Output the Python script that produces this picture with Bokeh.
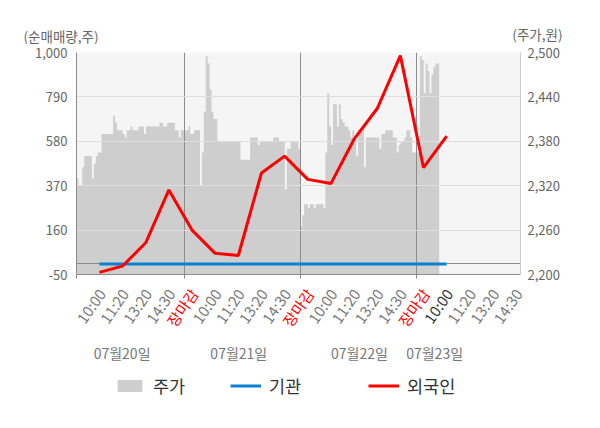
from bokeh.plotting import figure
from bokeh.layouts import column
from bokeh.models import (Range1d, LinearAxis, FixedTicker, NumeralTickFormatter, Grid,
                          ColumnDataSource, Legend, LegendItem, CustomJSTickFormatter)
from bokeh.embed import file_html
from bokeh.resources import INLINE
from bokeh.core.properties import value

FONT = "Noto Sans CJK KR"

# ---------------- data ----------------
tick_labels = ["10:00", "11:20", "13:20", "14:30", "장마감",
               "10:00", "11:20", "13:20", "14:30", "장마감",
               "10:00", "11:20", "13:20", "14:30", "장마감",
               "10:00", "11:20", "13:20", "14:30"]
date_labels = ["07월20일", "07월21일", "07월22일", "07월23일"]
date_pos = [0.98, 6.02, 11.23, 14.48]
day_bounds = [3.69, 8.70, 13.71]

# 순매매량 (주) at each labelled time point
institution = [0, 0, 0, 0, 0, 0, 0, 0, 0, 0, 0, 0, 0, 0, 0, 0]
foreign = [-40, -10, 100, 350, 160, 50, 40, 430, 510, 400, 380, 590, 735, 985, 455, 605]

# 주가 (원), intraday samples
price_day1 = [2330, 2320, 2320, 2345, 2360, 2360, 2360, 2360, 2330, 2350,
              2360, 2365, 2365, 2390, 2390, 2390, 2390, 2390, 2390, 2415,
              2405, 2395, 2395, 2395, 2390, 2385, 2395, 2395, 2400, 2395,
              2395, 2395, 2400, 2400, 2400, 2390, 2400, 2400, 2400, 2400,
              2400, 2400, 2400, 2405, 2405, 2400, 2400, 2405, 2405, 2405,
              2405, 2395, 2395, 2385, 2395, 2395]
price_day2 = [2395, 2395, 2400, 2390, 2390, 2395, 2395, 2395, 2320, 2365,
              2420, 2495, 2485, 2450, 2420, 2410, 2410, 2380, 2380, 2380,
              2380, 2380, 2380, 2380, 2380, 2380, 2380, 2380, 2380, 2355,
              2355, 2355, 2355, 2355, 2385, 2385, 2385, 2385, 2375, 2380,
              2380, 2380, 2380, 2380, 2380, 2380, 2385, 2385, 2385, 2380,
              2380, 2380, 2315, 2370, 2370, 2380, 2380, 2380, 2380, 2370,
              2265]
price_day3 = [2280, 2295, 2295, 2290, 2295, 2295, 2290, 2295, 2295, 2295,
              2295, 2290, 2365, 2445, 2400, 2375, 2430, 2430, 2400, 2430,
              2410, 2405, 2400, 2400, 2395, 2385, 2395, 2380, 2360, 2395,
              2395, 2400, 2345, 2385, 2385, 2385, 2385, 2385, 2385, 2385,
              2370, 2390, 2390, 2395, 2395, 2395, 2395, 2385, 2385, 2365,
              2375, 2380, 2380, 2385, 2395, 2395, 2385, 2365, 2365, 2365]
price_day4 = [2365, 2495, 2490, 2445, 2485, 2475, 2445, 2470, 2480, 2485, 2485]

left_ticks = [-50, 160, 370, 580, 790, 1000]
right_ticks = [2200, 2260, 2320, 2380, 2440, 2500]

# ---------------- layout constants ----------------
W = 592
FL, FR = 76, 520          # frame left / right (px)
TOP_H = 44                # title strip height
MAIN_H = 8 + 222 + 8      # main figure height
BOT_H = 138               # bottom strip height
X_START, X_END = -0.99, 18.19
GRAY_TXT = "#666666"

# ---------------- title strip ----------------
pa = figure(width=W, height=TOP_H, output_backend="svg", toolbar_location=None,
            x_range=Range1d(0, W), y_range=Range1d(0, TOP_H),
            x_axis_type=None, y_axis_type=None, min_border=0, frame_align=False,
            outline_line_color=None, background_fill_color="white",
            border_fill_color="white")
pa.text(x=[FL - 53], y=[TOP_H - 35], text=["(순매매량,주)"], text_align="left",
        text_baseline="middle", text_font=value(FONT), text_font_size="13.5px",
        text_color=GRAY_TXT)
pa.text(x=[FR + 42], y=[TOP_H - 33], text=["(주가,원)"], text_align="right",
        text_baseline="middle", text_font=value(FONT), text_font_size="13.5px",
        text_color=GRAY_TXT)

# ---------------- main chart ----------------
p = figure(width=W, height=MAIN_H, output_backend="svg", toolbar_location=None,
           x_range=Range1d(X_START, X_END), y_range=Range1d(-50, 1000),
           min_border_left=FL, min_border_right=W - FR, min_border_top=8,
           min_border_bottom=8, frame_align=False, background_fill_color="#f5f5f5",
           border_fill_color="white", outline_line_color=None)
p.extra_y_ranges = {"price": Range1d(2200, 2500)}

price = price_day1 + price_day2 + price_day3 + price_day4
step = 1.0 / 12
px = [X_START + i * step for i in range(len(price) + 1)]
py = price + [price[-1]]
area = p.varea_step(x=px, y1=[right_ticks[0]] * len(px), y2=py, step_mode="after",
                    fill_color="#cecece", y_range_name="price")
area.level = "image"

p.ygrid[0].ticker = FixedTicker(ticks=left_ticks[1:-1])
p.ygrid[0].grid_line_color = "#dedede"
p.xgrid[0].ticker = FixedTicker(ticks=day_bounds)
p.xgrid[0].grid_line_color = "#8c8c8c"
p.add_layout(Grid(dimension=1, ticker=FixedTicker(ticks=[0]), grid_line_color="#8c8c8c"))

xs = list(range(len(foreign)))
p.line(xs, institution, line_color="#0a82d2", line_width=3)
p.line(xs, foreign, line_color="#ff0000", line_width=3)

ya = p.yaxis[0]
ya.ticker = FixedTicker(ticks=left_ticks)
ya.major_label_overrides = {1000: "1,000", -50: "-50"}
ya.major_tick_out = 0
ya.major_tick_in = 0
ya.minor_tick_out = 0
ya.minor_tick_in = 0
ya.axis_line_color = "#8c8c8c"
ya.major_label_text_color = GRAY_TXT
ya.major_label_text_font = FONT
ya.major_label_text_font_size = "13px"
ya.major_label_standoff = 9

ra = LinearAxis(y_range_name="price", ticker=FixedTicker(ticks=right_ticks),
                formatter=NumeralTickFormatter(format="0,0"))
ra.major_tick_out = 0
ra.major_tick_in = 0
ra.minor_tick_out = 0
ra.minor_tick_in = 0
ra.axis_line_color = "#cccccc"
ra.major_label_text_color = GRAY_TXT
ra.major_label_text_font = FONT
ra.major_label_text_font_size = "13px"
ra.major_label_standoff = 7
p.add_layout(ra, "right")

xa = p.xaxis[0]
xa.ticker = FixedTicker(ticks=[X_START] + day_bounds)
xa.formatter = CustomJSTickFormatter(code="return ''")
xa.major_label_text_font_size = "0px"
xa.major_label_standoff = 0
xa.major_tick_out = 4
xa.major_tick_in = 0
xa.minor_tick_out = 0
xa.minor_tick_in = 0
xa.axis_line_color = "#8c8c8c"
xa.major_tick_line_color = "#8c8c8c"

# ---------------- bottom strip: tick labels, dates, legend ----------------
k = (X_END - X_START) / (FR - FL)
pc = figure(width=W, height=BOT_H, output_backend="svg", toolbar_location=None,
            x_range=Range1d(X_START - FL * k, X_START + (W - FL) * k),
            y_range=Range1d(0, BOT_H), x_axis_type=None, y_axis_type=None,
            min_border=0, frame_align=False, outline_line_color=None,
            background_fill_color="white", border_fill_color="white")

last_idx = len(foreign) - 1
colors = []
for i, t in enumerate(tick_labels):
    if t == "장마감":
        colors.append("#ff0000")
    elif i == last_idx:
        colors.append("#333333")
    else:
        colors.append("#7a7a7a")
tsrc = ColumnDataSource(dict(x=list(range(len(tick_labels))),
                             y=[BOT_H - 8] * len(tick_labels),
                             text=tick_labels, color=colors))
pc.text(x="x", y="y", text="text", text_color="color", source=tsrc, angle=0.96,
        text_align="right", text_baseline="middle", x_offset=2,
        text_font=value(FONT), text_font_size="15px")

dsrc = ColumnDataSource(dict(x=date_pos, y=[BOT_H - 70] * len(date_pos), text=date_labels))
pc.text(x="x", y="y", text="text", source=dsrc, text_align="center",
        text_baseline="middle", text_font=value(FONT), text_font_size="14px",
        text_color="#777777")

nan = float("nan")
d_area = pc.varea(x=[nan], y1=[nan], y2=[nan], fill_color="#cecece")
d_blue = pc.line(x=[nan], y=[nan], line_color="#0a82d2", line_width=3)
d_red = pc.line(x=[nan], y=[nan], line_color="#ff0000", line_width=3)


def make_legend(label, renderer, loc):
    return Legend(items=[LegendItem(label=label, renderers=[renderer])], location=loc,
                  orientation="horizontal", padding=0, margin=0, spacing=0,
                  border_line_color=None, background_fill_alpha=0,
                  glyph_width=31, glyph_height=15, label_standoff=8,
                  label_text_font=FONT, label_text_font_size="17.5px",
                  label_text_color="#333333")


pc.add_layout(make_legend("주가", d_area, (114, 22)))
pc.add_layout(make_legend("기관", d_blue, (230, 22)))
pc.add_layout(make_legend("외국인", d_red, (368, 22)))

layout = column(pa, p, pc, spacing=0)
open("out.html", "w").write(file_html(layout, INLINE))
